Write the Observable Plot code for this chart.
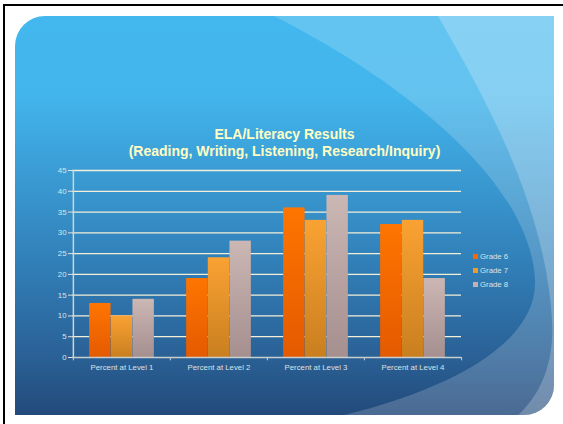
<!DOCTYPE html>
<html>
<head>
<meta charset="utf-8">
<script src="https://cdn.jsdelivr.net/npm/d3@7"></script>
<script src="https://cdn.jsdelivr.net/npm/@observablehq/plot@0.6"></script>
<style>
  html, body { margin: 0; padding: 0; background: #ffffff; }
  #page { position: relative; width: 563px; height: 424px; overflow: hidden; background: #fff; font-family: "Liberation Sans", Arial, sans-serif; }
  #frame { position: absolute; left: 3px; top: 4px; right: -10px; bottom: -10px; border-top: 2px solid #000; border-left: 2px solid #000; }
  #bg { position: absolute; left: 0; top: 0; }
  #title { position: absolute; left: 0; top: 126px; width: 569px; text-align: center; color: #ffffc4; font-weight: bold; font-size: 14px; line-height: 17px; }
  #chart { position: absolute; left: 0; top: 160px; }
  #legend { position: absolute; left: 473px; top: 249px; font-size: 7.8px; color: #d9e4e8; }
  #legend .row { height: 14.3px; display: flex; align-items: center; }
  #legend .sw { width: 5px; height: 5px; margin-right: 2px; }
</style>
</head>
<body>
<div id="page">
  <svg id="bg" width="563" height="424">
    <defs>
      <linearGradient id="panelGrad" x1="0" y1="16" x2="0" y2="415" gradientUnits="userSpaceOnUse">
        <stop offset="0" stop-color="#43b8ee"/>
        <stop offset="0.2" stop-color="#42b5ec"/>
        <stop offset="0.4" stop-color="#3a9bd3"/>
        <stop offset="0.62" stop-color="#317fb8"/>
        <stop offset="0.85" stop-color="#2a6196"/>
        <stop offset="1" stop-color="#234a7b"/>
      </linearGradient>
      <clipPath id="panelClip">
        <path d="M15 46 A30 30 0 0 1 45 16 L554 16 L554 385 A30 30 0 0 1 524 415 L15 415 Z"/>
      </clipPath>
      <linearGradient id="g6" x1="0" y1="0" x2="0" y2="1">
        <stop offset="0" stop-color="#ff7500"/>
        <stop offset="1" stop-color="#e45a00"/>
      </linearGradient>
      <linearGradient id="g7" x1="0" y1="0" x2="0" y2="1">
        <stop offset="0" stop-color="#faa233"/>
        <stop offset="1" stop-color="#c97f1f"/>
      </linearGradient>
      <linearGradient id="g8" x1="0" y1="0" x2="0" y2="1">
        <stop offset="0" stop-color="#cbb7b4"/>
        <stop offset="1" stop-color="#a58f8f"/>
      </linearGradient>
    </defs>
    <g clip-path="url(#panelClip)">
      <rect x="15" y="16" width="539" height="399" fill="url(#panelGrad)"/>
      <path d="M274 16 C400 80 530 180 535 280 C538 350 430 395 340 416 L560 416 L560 16 Z" fill="#ffffff" fill-opacity="0.18"/>
      <path d="M438 16 C480 90 545 200 552 320 C555 370 535 400 517 416 L560 416 L560 16 Z" fill="#ffffff" fill-opacity="0.22"/>
    </g>
  </svg>
  <div id="frame"></div>
  <div id="title">ELA/Literacy Results<br>(Reading, Writing, Listening, Research/Inquiry)</div>
  <div id="chart"></div>
  <div id="legend"></div>
</div>
<script>
// ---- data ----
const categories = ["Percent at Level 1", "Percent at Level 2", "Percent at Level 3", "Percent at Level 4"];
const grades = ["Grade 6", "Grade 7", "Grade 8"];
const grade6 = [13, 19, 36, 32];
const grade7 = [10, 24, 33, 33];
const grade8 = [14, 28, 39, 19];
const yTicks = [0, 5, 10, 15, 20, 25, 30, 35, 40, 45];

const seriesValues = [grade6, grade7, grade8];
const fills = ["url(#g6)", "url(#g7)", "url(#g8)"];
const swatches = ["#f56a00", "#ef9a2b", "#c6b0ae"];

const rows = [];
grades.forEach((g, gi) => categories.forEach((c, ci) => rows.push({category: c, grade: g, value: seriesValues[gi][ci]})));

// ---- layout ----
const W = 563, mL = 72, mR = 102, mT = 10, mB = 30;
const H = mT + 187 + mB;
const bw = (W - mL - mR) / categories.length;
const groupW = bw * 0.668;
const barW = groupW / grades.length;

const barMarks = grades.map((g, gi) => {
  const insetLeft = (bw - groupW) / 2 + gi * barW;
  const insetRight = bw - insetLeft - barW;
  return Plot.barY(rows.filter(r => r.grade === g), {
    x: "category", y: "value", fill: fills[gi], insetLeft, insetRight
  });
});

const chart = Plot.plot({
  width: W, height: H,
  marginLeft: mL, marginRight: mR, marginTop: mT, marginBottom: mB,
  style: {background: "transparent", color: "#dbe3e4", fontSize: "7.8px", fontFamily: "'Liberation Sans', Arial, sans-serif", overflow: "visible"},
  x: {domain: categories, padding: 0, label: null, tickSize: 0, tickPadding: 7},
  y: {domain: [0, 45], ticks: yTicks, tickSize: 4, tickPadding: 2, label: null},
  marks: [
    Plot.ruleY(yTicks.filter(t => t > 0), {stroke: "#f3efd8", strokeWidth: 1.3}),
    ...barMarks,
    Plot.ruleX([categories[0]], {dx: -bw / 2, y1: 0, y2: 45, stroke: "#cfd6d3", strokeWidth: 1.5}),
    Plot.ruleY([0], {stroke: "#c9cfcc", strokeWidth: 1.5}),
    Plot.ruleX(categories, {dx: -bw / 2, y1: 0, y2: -0.8, stroke: "#c9cfcc", strokeWidth: 1}),
    Plot.ruleX([categories[categories.length - 1]], {dx: bw / 2, y1: 0, y2: -0.8, stroke: "#c9cfcc", strokeWidth: 1})
  ]
});
document.getElementById("chart").appendChild(chart);

// legend
const legend = document.getElementById("legend");
grades.forEach((g, i) => {
  const row = document.createElement("div");
  row.className = "row";
  const sw = document.createElement("span");
  sw.className = "sw";
  sw.style.background = swatches[i];
  const t = document.createElement("span");
  t.textContent = g;
  row.appendChild(sw); row.appendChild(t);
  legend.appendChild(row);
});
</script>
</body>
</html>
